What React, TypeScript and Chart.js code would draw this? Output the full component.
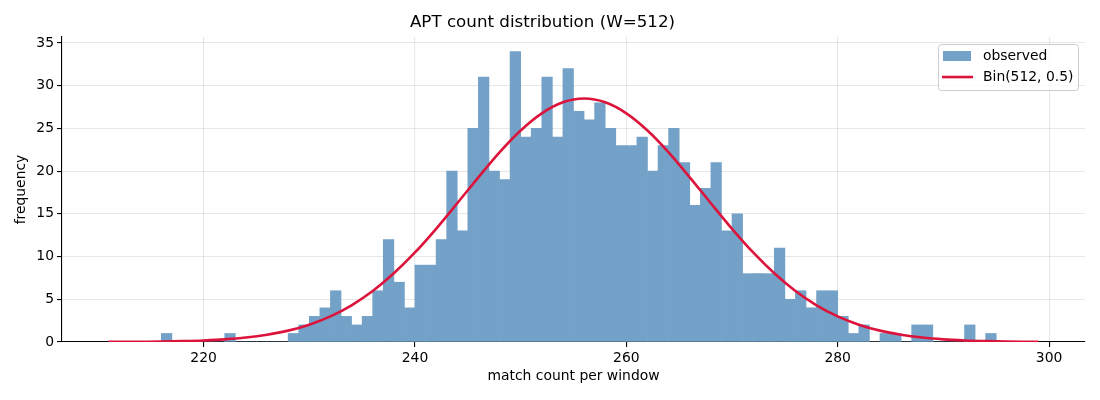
import { useEffect, useRef } from "react";
import { Chart, registerables } from "chart.js";

Chart.register(...registerables);

// histogram: one bin per integer match count, starting at 216
const BIN_START = 216;
const counts = [
  1, 0, 0, 0, 0, 0, 1, 0, 0, 0, 0, 0, 1, 2, 3, 4, 6, 3, 2, 3, 6, 12, 7, 4,
  9, 9, 12, 20, 13, 25, 31, 20, 19, 34,
  24, 25, 31, 24, 32, 27, 26, 28, 25, 23,
  23, 24, 20, 23, 25, 21, 16, 18, 21, 13,
  15, 8, 8, 8, 11, 5, 6, 4, 6, 6,
  3, 1, 2, 0, 1, 1, 0, 2, 2, 0, 0, 0, 2, 0, 1,
];

// expected curve Bin(512, 0.5)
const curveX = [
  211, 212, 214, 216, 218, 220, 222, 224, 226, 228, 230, 232, 234, 236, 238,
  240, 242, 244, 246, 248, 250, 252, 254, 256, 258, 260, 262, 264, 266, 268,
  270, 272, 274, 276, 278, 280, 282, 284, 286, 288, 290, 292, 294, 296, 298, 299,
];
const curveY = [
  0.01, 0.01, 0.03, 0.05, 0.1, 0.18, 0.31, 0.52, 0.85, 1.33, 2.03, 3.0, 4.3, 5.97, 8.04,
  10.48, 13.25, 16.24, 19.28, 22.2, 24.76, 26.77, 28.06, 28.5, 28.06, 26.77, 24.76, 22.2, 19.28, 16.24,
  13.25, 10.48, 8.04, 5.97, 4.3, 3.0, 2.03, 1.33, 0.85, 0.52, 0.31, 0.18, 0.1, 0.05, 0.03, 0.02,
];

const xTicks = [220, 240, 260, 280, 300];
const yTicks = [0, 5, 10, 15, 20, 25, 30, 35];

// steelblue at 0.75 alpha over white, made opaque so adjacent bins don't seam
const BAR_COLOR = "rgb(116, 161, 199)";
const LINE_COLOR = "#dc143c";
const GRID_COLOR = "rgba(176, 176, 176, 0.3)";
const FONT = "DejaVu Sans";

// matplotlib-style legend inside the axes, top right
const insideLegend = {
  id: "insideLegend",
  afterDraw(chart: Chart) {
    const { ctx, chartArea } = chart;
    const w = 140;
    const h = 46;
    const x = chartArea.right - 7 - w;
    const y = chartArea.top + 7;
    ctx.save();
    ctx.beginPath();
    ctx.roundRect(x + 0.5, y + 0.5, w, h, 3);
    ctx.fillStyle = "rgba(255,255,255,0.8)";
    ctx.fill();
    ctx.strokeStyle = "#cccccc";
    ctx.lineWidth = 1;
    ctx.stroke();

    const labels = chart.data.datasets.map((d) => d.label as string);
    // observed patch
    ctx.fillStyle = BAR_COLOR;
    ctx.fillRect(x + 5, y + 7, 28, 10);
    // curve line
    ctx.strokeStyle = LINE_COLOR;
    ctx.lineWidth = 2.6;
    ctx.beginPath();
    ctx.moveTo(x + 4, y + 33);
    ctx.lineTo(x + 35, y + 33);
    ctx.stroke();

    ctx.fillStyle = "#000";
    ctx.font = `13.9px "${FONT}"`;
    ctx.textBaseline = "middle";
    ctx.fillText(labels[1], x + 45, y + 12);
    ctx.fillText(labels[0], x + 45, y + 33);
    ctx.restore();
  },
};

export default function App() {
  const canvasRef = useRef<HTMLCanvasElement>(null);
  const chartRef = useRef<Chart | null>(null);

  useEffect(() => {
    if (!canvasRef.current) return;
    if (chartRef.current) {
      chartRef.current.destroy();
      chartRef.current = null;
    }

    Chart.defaults.font.family = FONT;
    Chart.defaults.color = "#000";

    const barData = counts.map((c, i) => ({ x: BIN_START + i + 0.5, y: c }));
    const lineData = curveX.map((x, i) => ({ x, y: curveY[i] }));

    chartRef.current = new Chart(canvasRef.current, {
      type: "bar",
      data: {
        datasets: [
          {
            type: "line",
            label: "Bin(512, 0.5)",
            data: lineData,
            borderColor: LINE_COLOR,
            borderWidth: 2.6,
            pointRadius: 0,
            cubicInterpolationMode: "monotone",
            order: 0,
          },
          {
            type: "bar",
            label: "observed",
            data: barData,
            backgroundColor: BAR_COLOR,
            borderWidth: 0,
            barPercentage: 1,
            categoryPercentage: 1,
            order: 1,
          },
        ],
      },
      options: {
        animation: false,
        responsive: true,
        maintainAspectRatio: false,
        layout: { padding: { top: 0, right: 15, bottom: 0, left: 0 } },
        plugins: {
          legend: { display: false },
          tooltip: { enabled: false },
          title: {
            display: true,
            text: "APT count distribution (W=512)",
            color: "#000",
            font: { size: 16.7, weight: "normal" },
            padding: { top: 13, bottom: 4 },
          },
        },
        scales: {
          x: {
            type: "linear",
            min: 206.6,
            max: 303.4,
            offset: false,
            afterFit: (scale) => {
              scale.height = 58;
            },
            afterBuildTicks: (scale) => {
              scale.ticks = xTicks.map((v) => ({ value: v }));
            },
            ticks: {
              font: { size: 13.9 },
              color: "#000",
              padding: 3,
              maxRotation: 0,
              autoSkip: false,
            },
            grid: {
              offset: false,
              color: GRID_COLOR,
              lineWidth: 1.1,
              tickColor: "#000",
              tickLength: 5,
              tickWidth: 1.1,
            },
            border: { color: "#000", width: 1.1 },
            title: {
              display: true,
              text: "match count per window",
              font: { size: 13.9 },
              color: "#000",
              padding: { top: 0, bottom: 15 },
            },
          },
          y: {
            type: "linear",
            min: 0,
            max: 35.7,
            afterFit: (scale) => {
              scale.width = 62;
            },
            afterBuildTicks: (scale) => {
              scale.ticks = yTicks.map((v) => ({ value: v }));
            },
            ticks: {
              font: { size: 13.9 },
              color: "#000",
              padding: 3,
              autoSkip: false,
            },
            grid: {
              color: GRID_COLOR,
              lineWidth: 1.1,
              tickColor: "#000",
              tickLength: 5,
              tickWidth: 1.1,
            },
            border: { color: "#000", width: 1.1 },
            title: {
              display: true,
              text: "frequency",
              font: { size: 13.9 },
              color: "#000",
              padding: { top: 13, bottom: 0 },
            },
          },
        },
      },
      plugins: [insideLegend],
    });

    return () => {
      chartRef.current?.destroy();
      chartRef.current = null;
    };
  }, []);

  return (
    <div style={{ position: "absolute", left: 0, top: 0, width: "1100px", height: "400px" }}>
      <canvas ref={canvasRef} />
    </div>
  );
}
